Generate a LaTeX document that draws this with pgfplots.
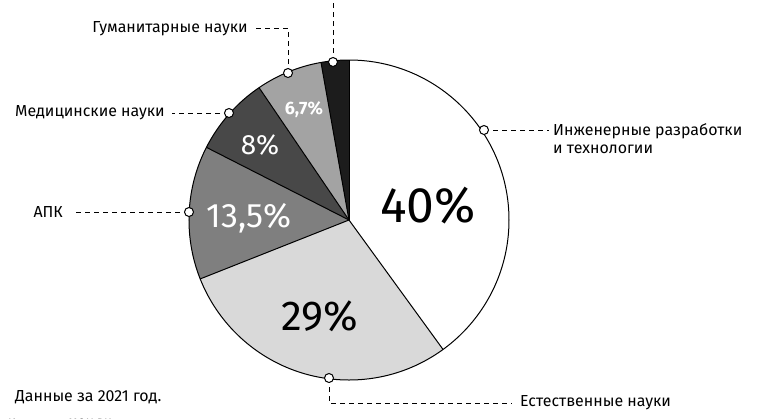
\documentclass[border=0pt]{standalone}
\usepackage{pgfplots}
\pgfplotsset{compat=1.18}
\usepackage{fontspec}
\setmainfont{Fira Sans}
\definecolor{cWhite}{HTML}{FFFFFF}
\definecolor{cLight}{HTML}{D9D9D9}
\definecolor{cGray}{HTML}{7F7F7F}
\definecolor{cDark}{HTML}{484848}
\definecolor{cMid}{HTML}{A3A3A3}
\definecolor{cBlack}{HTML}{1C1C1C}
% shares in percent, clockwise from the top
\def\vA{40}\def\vB{29}\def\vC{13.5}\def\vD{8}\def\vE{6.7}\def\vF{2.8}
\pgfmathsetmacro\aO{90}
\pgfmathsetmacro\aA{\aO-3.6*\vA}
\pgfmathsetmacro\aB{\aA-3.6*\vB}
\pgfmathsetmacro\aC{\aB-3.6*\vC}
\pgfmathsetmacro\aD{\aC-3.6*\vD}
\pgfmathsetmacro\aE{\aD-3.6*\vE}
\pgfmathsetmacro\aF{\aE-3.6*\vF}
\def\R{160bp}
\tikzset{lead/.style={dash pattern=on 5bp off 4bp, line width=1bp},
  lab/.style={font=\fontsize{16}{18}\selectfont, inner sep=0pt},
  dot/.style={fill=white, draw=black, line width=1bp}}
\begin{document}
\begin{tikzpicture}
\path[use as bounding box, clip] (0,0) rectangle (760bp,419bp);
\begin{axis}[at={(0,0)}, anchor=south west, x=1bp, y=1bp, y dir=reverse,
  xmin=0, xmax=760, ymin=0, ymax=419, hide axis, scale only axis, clip=false]
\addplot[draw=none, forget plot] coordinates {(349,220)};
\fill[cWhite] (axis cs:349,220) -- ++(\aO:\R) arc[start angle=\aO, end angle=\aA, radius=\R] -- cycle;
\fill[cLight] (axis cs:349,220) -- ++(\aA:\R) arc[start angle=\aA, end angle=\aB, radius=\R] -- cycle;
\fill[cGray]  (axis cs:349,220) -- ++(\aB:\R) arc[start angle=\aB, end angle=\aC, radius=\R] -- cycle;
\fill[cDark]  (axis cs:349,220) -- ++(\aC:\R) arc[start angle=\aC, end angle=\aD, radius=\R] -- cycle;
\fill[cMid]   (axis cs:349,220) -- ++(\aD:\R) arc[start angle=\aD, end angle=\aE, radius=\R] -- cycle;
\fill[cBlack] (axis cs:349,220) -- ++(\aE:\R) arc[start angle=\aE, end angle=\aF, radius=\R] -- cycle;
\draw[line width=1bp] (axis cs:349,220) circle[radius=\R];
\draw[line width=1bp] (axis cs:349,220) -- ++(\aO:\R);
\draw[line width=1bp] (axis cs:349,220) -- ++(\aA:\R);
\draw[line width=1bp] (axis cs:349,220) -- ++(\aB:\R);
\draw[line width=1bp] (axis cs:349,220) -- ++(\aC:\R);
\draw[line width=1bp] (axis cs:349,220) -- ++(\aD:\R);
\draw[line width=1bp] (axis cs:349,220) -- ++(\aE:\R);
% leader lines
\draw[lead] (axis cs:484,130) -- (axis cs:549,130);
\draw[lead] (axis cs:329,378) -- (axis cs:329,403) -- (axis cs:512,403);
\draw[lead] (axis cs:189,212) -- (axis cs:74,212);
\draw[lead] (axis cs:229,113) -- (axis cs:172,113);
\draw[lead] (axis cs:288,73) -- (axis cs:288,28) -- (axis cs:254,28);
\draw[lead] (axis cs:333,62) -- (axis cs:333,-5);
\filldraw[dot] (axis cs:484,130) circle[radius=4.5bp];
\filldraw[dot] (axis cs:329,378) circle[radius=4.5bp];
\filldraw[dot] (axis cs:189,212) circle[radius=4.5bp];
\filldraw[dot] (axis cs:229,113) circle[radius=4.5bp];
\filldraw[dot] (axis cs:288,73) circle[radius=4.5bp];
\filldraw[dot] (axis cs:333,62) circle[radius=4.5bp];
% category labels
\node[lab, anchor=west, align=left] at (axis cs:553,139) {Инженерные разработки\\и технологии};
\node[lab, anchor=west] at (axis cs:520,403) {Естественные науки};
\node[lab, anchor=east] at (axis cs:63,212) {АПК};
\node[lab, anchor=east] at (axis cs:165,113) {Медицинские науки};
\node[lab, anchor=east] at (axis cs:248,29) {Гуманитарные науки};
\node[lab, anchor=west] at (axis cs:15,397) {Данные за 2021 год.};
\node[lab, anchor=west, font=\fontsize{12}{14}\selectfont] at (axis cs:8,423) {Источник: МОН РК};
% value labels
\node[inner sep=0pt, font=\fontsize{50}{50}\selectfont] at (axis cs:428,206) {\vA\%};
\node[inner sep=0pt, font=\fontsize{42}{42}\selectfont] at (axis cs:320,316) {\vB\%};
\node[inner sep=0pt, text=white, font=\fontsize{34}{34}\selectfont] at (axis cs:249,218) {13,5\%};
\node[inner sep=0pt, text=white, font=\fontsize{28}{28}\selectfont] at (axis cs:260,145) {\vD\%};
\node[inner sep=0pt, text=white, font=\bfseries\fontsize{18}{18}\selectfont] at (axis cs:304,110) {6,7\%};
\end{axis}
\end{tikzpicture}
\end{document}
